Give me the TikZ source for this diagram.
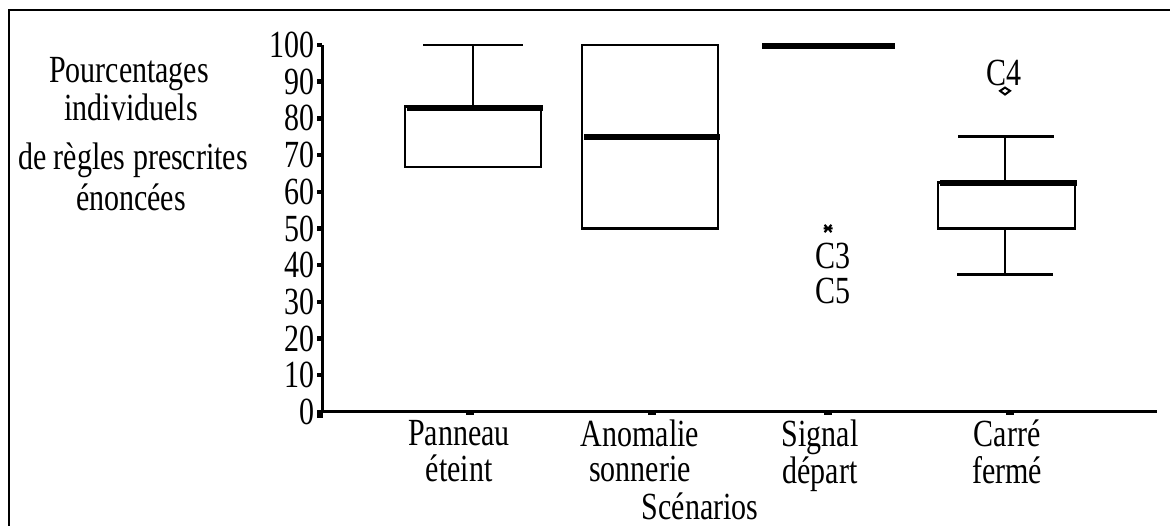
\documentclass[tikz,border=0pt]{standalone}
\usepackage{fontspec}
\usepackage{graphicx}
\setmainfont{Liberation Serif}
\usetikzlibrary{calc}
\newcommand{\tall}[1]{\scalebox{1}[1.28]{#1}}
\newcommand{\twoln}[2]{\tall{\begin{tabular}{@{}c@{}}#1\\#2\end{tabular}}}
\begin{document}
\begin{tikzpicture}[x=1pt,y=3.67pt,
  lbl/.style={font=\fontsize{30}{25}\selectfont,inner sep=0pt},
  boxln/.style={line width=2.5pt},
  medln/.style={line width=6pt},
  axln/.style={line width=3pt}]
  \useasboundingbox (0,-31.06) rectangle (1170,112.26);
  \draw[line width=2pt] (9,-31.06) -- (9,109.54) -- (1170,109.54);

  % axes
  \draw[axln] (322,0) -- (322,100);
  \draw[axln] (320.5,0) -- (1157,0);
  \fill (317,-1.6) rectangle (323,0);
  \foreach \v in {0,10,...,100}{
    \fill (317,\v-0.6) rectangle (322,\v+0.6);
    \node[lbl,anchor=east] (y\v) at (315,\v) {\tall{\v}};
  }
  \foreach \x in {470,652,828,1010}
    \fill (\x-4,0) rectangle (\x+4,-0.9);

  \node[lbl,anchor=base] (ttl1) at (129,89.65) {\tall{Pourcentages}};
  \node[lbl,anchor=base] (ttl2) at (131,79.29) {\tall{individuels}};
  \node[lbl,anchor=base] (ttl3) at (133,65.94) {\tall{de règles prescrites}};
  \node[lbl,anchor=base] (ttl4) at (131,54.77) {\tall{énoncées}};

  % Panneau eteint
  \draw[boxln] (473,83.3) -- (473,100);
  \draw[boxln] (423,100) -- (523,100);
  \draw[boxln] (405,66.7) rectangle (541,83.3);
  \draw[medln] (407,82.7) -- (543,82.7);

  % Anomalie sonnerie
  \draw[boxln] (582,50) rectangle (718,100);
  \draw[medln] (584,75) -- (720,75);

  % Signal depart
  \draw[medln] (762,99.7) -- (895,99.7);
  \coordinate (o3) at (828,50);
  \draw[line width=2pt] ($(o3)+(-4.5,0)$) -- ($(o3)+(4.5,0)$)
    ($(o3)+(-3.5,-1)$) -- ($(o3)+(3.5,1)$)
    ($(o3)+(-3.5,1)$) -- ($(o3)+(3.5,-1)$);
  \node[lbl,anchor=north] (c35) at (833,46) {\twoln{C3}{C5}};

  % Carre ferme
  \draw[boxln] (1005,62.5) -- (1005,75);
  \draw[boxln] (958,75) -- (1054,75);
  \draw[boxln] (1005,50) -- (1005,37.5);
  \draw[boxln] (957,37.5) -- (1053,37.5);
  \draw[boxln] (938,50) rectangle (1075,62.5);
  \draw[medln] (940,62.3) -- (1077,62.3);
  \draw[line width=2pt] (1000,87.5) -- (1005,88.4) -- (1010,87.5) -- (1005,86.5) -- cycle;
  \node[lbl] (c4) at (1004,92.3) {\tall{C4}};

  % categories
  \node[lbl,anchor=north] (cat1) at (459,-2.2) {\twoln{Panneau}{éteint}};
  \node[lbl,anchor=north] (cat2) at (640,-2.2) {\twoln{Anomalie}{sonnerie}};
  \node[lbl,anchor=north] (cat3) at (820,-2.2) {\twoln{Signal}{départ}};
  \node[lbl,anchor=north] (cat4) at (1007,-2.2) {\twoln{Carré}{fermé}};
  \node[lbl,anchor=base] (scen) at (700,-29.2) {\tall{Scénarios}};
\end{tikzpicture}
\end{document}
